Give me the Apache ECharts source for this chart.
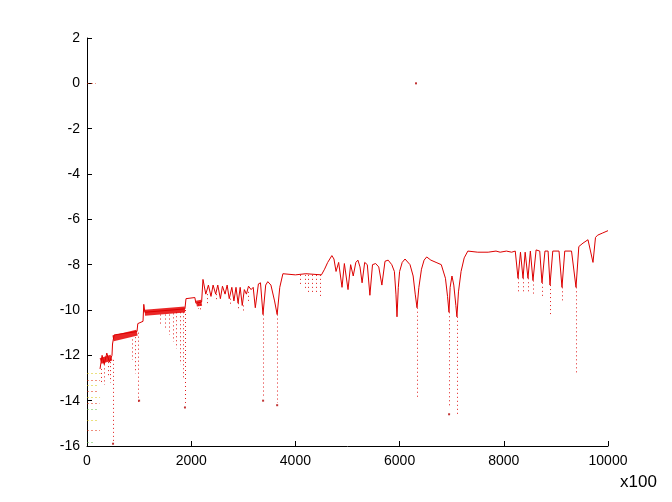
<!DOCTYPE html>
<html>
<head>
<meta charset="utf-8">
<script src="https://cdn.jsdelivr.net/npm/echarts@6/dist/echarts.min.js"></script>
<style>
html,body{margin:0;padding:0;background:#fff;}
#c{width:672px;height:502px;}
</style>
</head>
<body>
<div id="c"></div>
<script>
// ---- data ----
const xTicks = [0, 2000, 4000, 6000, 8000, 10000];
const yTicks = [-16, -14, -12, -10, -8, -6, -4, -2, 0, 2];

const mainX = [250,290,330,380,430,480,490,520,960,975,1075,1090,1110,1880,1900,2070,2090,2200,
  2226,2280,2330,2380,2420,2470,2510,2560,2600,2650,2690,2730,2780,2820,2860,2900,2940,2980,3020,3060,3100,3150,3190,3230,3290,3330,3378,3430,3470,3530,3600,3650,3700,3760,4000,4200,4500,
  4560,4620,4700,4740,4780,4830,4895,4940,5010,5060,5110,5160,5200,5240,5280,5330,5380,5430,5480,5540,5600,5660,5720,5780,5850,5900,5930,5950,5975,6000,6050,6104,6200,6260,6300,6334,6370,6420,6470,6520,6600,6700,6800,6880,6920,6948,6970,7005,7040,7080,7100,7130,7180,7240,7310,7500,7700,7850,7930,8050,8150,8220,
  8273,8320,8369,8410,8464,8510,8560,8620,8690,8733,8790,8850,8887,8940,9060,9117,9170,9300,9386,9440,9520,9616,9712,9760,9800,9900,10000];
const mainY = [-12.6,-12.0,-12.4,-11.9,-12.3,-12.0,-11.5,-11.1,-10.95,-10.6,-10.5,-9.75,-10.1,-9.95,-9.5,-9.45,-9.7,-9.65,
  -8.65,-9.3,-8.9,-9.4,-8.9,-9.3,-8.9,-9.5,-8.95,-9.3,-8.9,-9.5,-9.0,-9.6,-9.0,-9.7,-9.0,-9.8,-9.1,-9.3,-8.95,-9.1,-9.0,-9.9,-8.85,-8.8,-10.2,-8.9,-8.75,-8.9,-9.6,-10.2,-9.0,-8.4,-8.45,-8.4,-8.45,
  -8.2,-7.9,-7.6,-7.75,-8.3,-7.9,-9.0,-7.95,-9.1,-8.0,-8.5,-7.9,-7.8,-8.1,-8.8,-7.9,-8.0,-9.35,-8.0,-7.95,-8.1,-8.9,-7.85,-7.8,-8.0,-8.3,-9.3,-10.3,-9.0,-8.3,-7.9,-7.75,-8.0,-8.5,-9.3,-9.9,-9.0,-8.2,-7.8,-7.66,-7.8,-7.9,-8.0,-8.6,-9.4,-10.1,-9.0,-8.5,-8.9,-9.8,-10.3,-9.2,-8.3,-7.7,-7.4,-7.45,-7.45,-7.4,-7.45,-7.4,-7.45,-7.4,
  -8.6,-7.45,-8.6,-7.45,-8.6,-7.4,-8.7,-7.35,-7.4,-8.8,-7.4,-7.4,-8.9,-7.4,-7.4,-9.0,-7.4,-7.4,-9.0,-7.2,-7.05,-6.9,-7.9,-6.8,-6.7,-6.6,-6.5];

// dense noisy bands: [x0, y0, x1, y1]
const bands = [
  [260,-12.25,470,-12.1],
  [500,-11.25,960,-11.0],
  [1110,-10.12,1880,-9.98],
  [2100,-9.72,2200,-9.68]
];

// dotted drop traces: x, top, bottom
const dropX   = [270,330,400,450,500,860,920,980,1400,1500,1580,1650,1720,1790,1850,1880,2130,2180,2300,2480,2740,2900,3000,3100,3378,3650,4100,4180,4250,4330,4400,4470,6334,6948,7100,8273,8369,8464,8560,8733,8887,9117,9386];
const dropTop = [-12.6,-12.4,-12.3,-12.3,-12.2,-11.3,-11.2,-11.0,-10.2,-10.2,-10.2,-10.15,-10.1,-10.1,-10.1,-10.0,-9.75,-9.75,-9.3,-9.3,-9.5,-9.7,-9.8,-9.2,-10.2,-10.2,-8.45,-8.45,-8.45,-8.45,-8.45,-8.45,-9.9,-10.1,-10.3,-8.6,-8.6,-8.6,-8.7,-8.8,-8.9,-9.0,-9.0];
const dropBot = [-13.2,-13.3,-13.0,-13.2,-15.8,-12.2,-12.8,-14.1,-10.7,-10.9,-11.1,-11.4,-11.7,-12.4,-13.1,-14.1,-9.95,-10.0,-9.7,-9.6,-9.8,-10.0,-10.1,-9.6,-13.8,-14.1,-8.9,-9.1,-9.2,-9.3,-9.3,-9.4,-13.9,-14.3,-14.6,-9.2,-9.3,-9.3,-9.3,-9.5,-10.3,-9.7,-12.8];

// short horizontal dotted traces near the origin: y, x0, x1, colour group
const hY    = [0,-12.8,-13.1,-13.3,-13.6,-13.85,-14.1,-14.4,-14.85,-15.3,-15.85];
const hX0   = [0,0,0,0,0,0,0,0,0,0,0];
const hX1   = [170,260,250,230,210,250,240,200,230,250,120];
const hGrp  = [0,1,0,1,0,1,0,2,1,0,2];

// isolated points
const ptX = [6315, 500, 1000, 1880, 3380, 3650, 6950];
const ptY = [0, -15.9, -14.0, -14.3, -14.0, -14.2, -14.6];

// ---- chart ----
const RED = '#dd0000';
const grpColors = ['#dd2200', '#d8c400', '#5fbf3f'];

const chart = echarts.init(document.getElementById('c'), null, {renderer: 'canvas'});

const mainData = mainX.map((x, i) => [x, mainY[i]]);
const bandData = bands.map(b => ({coords: [[b[0], b[1]], [b[2], b[3]]]}));
const dropData = dropX.map((x, i) => ({coords: [[x, dropTop[i]], [x, dropBot[i]]]}));
const hData = hY.map((y, i) => ({coords: [[hX0[i], y], [hX1[i], y]], lineStyle: {color: grpColors[hGrp[i]]}}));
const ptData = ptX.map((x, i) => [x, ptY[i]]);

const FONT = 'Liberation Sans, Arial, sans-serif';

chart.setOption({
  animation: false,
  backgroundColor: '#ffffff',
  grid: {left: 87, right: 64, top: 38, bottom: 56, containLabel: false},
  xAxis: {
    type: 'value', min: 0, max: 10000, interval: 2000,
    axisLine: {show: true, onZero: false, lineStyle: {color: '#000', width: 1}},
    axisTick: {show: true, inside: true, length: 5, lineStyle: {color: '#000'}},
    splitLine: {show: false},
    axisLabel: {color: '#000', fontSize: 14, fontFamily: FONT, margin: 8,
      formatter: v => xTicks.includes(v) ? String(v) : ''}
  },
  yAxis: {
    type: 'value', min: -16, max: 2, interval: 2,
    axisLine: {show: true, onZero: false, lineStyle: {color: '#000', width: 1}},
    axisTick: {show: true, inside: true, length: 5, lineStyle: {color: '#000'}},
    splitLine: {show: false},
    axisLabel: {color: '#000', fontSize: 14, fontFamily: FONT, margin: 7,
      formatter: v => yTicks.includes(v) ? String(v) : ''}
  },
  graphic: [{
    type: 'text', left: 620, top: 474,
    style: {text: 'x100', fill: '#000', font: '17px ' + FONT}
  }],
  series: [
    {
      type: 'lines', coordinateSystem: 'cartesian2d', silent: true,
      lineStyle: {color: '#e81010', width: 6, opacity: 0.9},
      data: bandData, z: 2
    },
    {
      type: 'lines', coordinateSystem: 'cartesian2d', silent: true,
      lineStyle: {color: RED, width: 1, type: [1, 3], opacity: 0.9},
      data: dropData, z: 2
    },
    {
      type: 'lines', coordinateSystem: 'cartesian2d', silent: true,
      lineStyle: {width: 1, type: [2, 2]},
      data: hData, z: 2
    },
    {
      type: 'line', data: mainData, showSymbol: false, symbol: 'none',
      lineStyle: {color: RED, width: 1}, z: 3, silent: true
    },
    {
      type: 'scatter', data: ptData, symbol: 'rect', symbolSize: 2,
      itemStyle: {color: '#b00000'}, z: 3, silent: true
    }
  ]
});
</script>
</body>
</html>
